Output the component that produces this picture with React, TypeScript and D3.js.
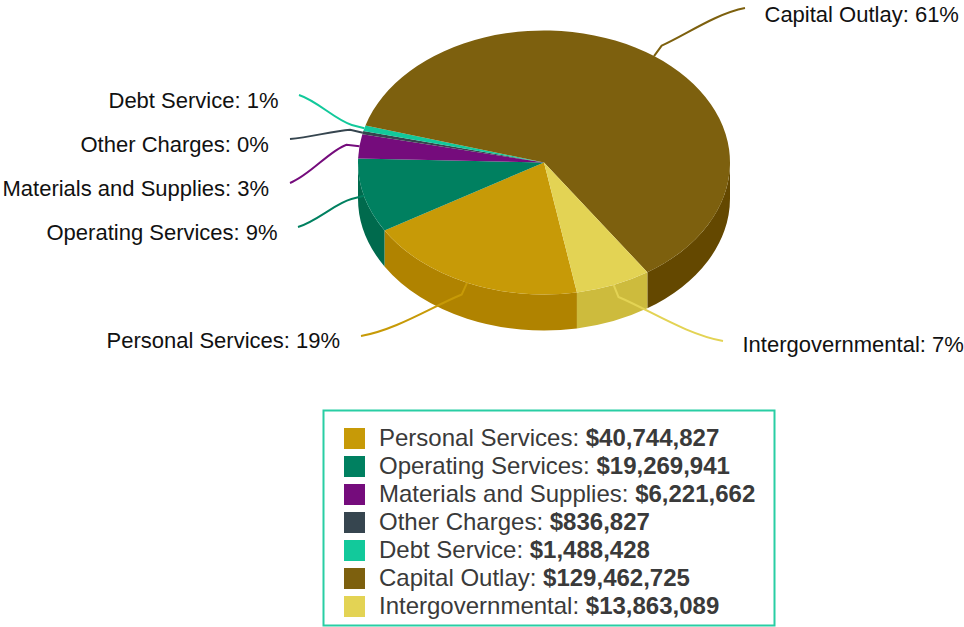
import React from 'react';
import * as d3 from 'd3';

// chart values
const categories = ['Personal Services', 'Operating Services', 'Materials and Supplies', 'Other Charges', 'Debt Service', 'Capital Outlay', 'Intergovernmental'];
const amounts = [40744827, 19269941, 6221662, 836827, 1488428, 129462725, 13863089];
const colors = ['#c79a07', '#008060', '#750c7c', '#36454f', '#12c99b', '#7d600e', '#e3d354'];
const wallColors = ['#b08300', '#006a4d', '#640a6a', '#2c393f', '#0fb087', '#644800', '#cdbb3d'];

// label layout, same order as categories
const labelX = [106.5, 46.5, 2.5, 80.5, 108.5, 764.5, 742.5];
const labelY = [348, 240, 196, 152, 108, 22, 352];
const connectorEndX = [361, 298, 290, 290, 299, 745, 723];
const connectorEndY = [336, 227, 183, 139, 95, 8, 341];
const bendNear = [0.15, 0.2, 0.2, 0.2, 0.2, 0.15, 0.15];
const bendFar = [0.7, 0.85, 0.85, 0.85, 0.85, 0.7, 0.7];

const cx = 544;
const cy = 162.5;
const rx = 186;
const ry = 132;
const depth = 36;
const startAngle = (169.8 * Math.PI) / 180;

const pie = d3.pie<number>().value(d => d).sort(null).startAngle(startAngle).endAngle(startAngle + 2 * Math.PI);
const slices = pie(amounts);
const total = d3.sum(amounts);
const money = d3.format('$,');

const topArc = d3.arc<d3.PieArcDatum<number>>().innerRadius(0).outerRadius(rx);

const px = (a: number) => cx + rx * Math.sin(a);
const py = (a: number) => cy - ry * Math.cos(a);

// outer wall for the front half of the ellipse only
const wallPath = (a0: number, a1: number) => {
  const parts: string[] = [];
  [Math.PI / 2, Math.PI * 2.5].forEach(from => {
    const s = Math.max(a0, from);
    const e = Math.min(a1, from + Math.PI);
    if (e <= s) return;
    parts.push(
      `M${px(s)},${py(s)}A${rx},${ry} 0 0 1 ${px(e)},${py(e)}` +
      `L${px(e)},${py(e) + depth}A${rx},${ry} 0 0 0 ${px(s)},${py(s) + depth}Z`
    );
  });
  return parts.join('');
};

const connectorPath = (i: number) => {
  const mid = (slices[i].startAngle + slices[i].endAngle) / 2;
  const x0 = px(mid);
  const y0 = py(mid);
  // short radial stub leaving the pie, then a smooth run to the label
  const sx = x0 + 13 * Math.sin(mid);
  const sy = y0 - 13 * Math.cos(mid);
  const ex = connectorEndX[i];
  const ey = connectorEndY[i];
  const p = d3.path();
  p.moveTo(ex, ey);
  p.bezierCurveTo(ex + (sx - ex) * 0.35, ey + (sy - ey) * bendNear[i], ex + (sx - ex) * 0.7, ey + (sy - ey) * bendFar[i], sx, sy);
  p.quadraticCurveTo(x0 + 6 * Math.sin(mid), y0 - 6 * Math.cos(mid), x0, y0);
  return p.toString();
};

const rowY = d3.scalePoint<string>().domain(categories).range([438, 606]);

export default function App() {
  return (
    <svg width={964} height={627} style={{ position: 'absolute', left: 0, top: 0, fontFamily: '"Liberation Sans", Arial, sans-serif' }}>
      {slices.map((s, i) => (
        <path key={i} d={wallPath(s.startAngle, s.endAngle)} fill={wallColors[i]} />
      ))}
      <g transform={`translate(${cx},${cy}) scale(1,${ry / rx})`}>
        {slices.map((s, i) => (
          <path key={i} d={topArc(s) as string} fill={colors[i]} />
        ))}
      </g>
      {slices.map((s, i) => (
        <path key={i} d={connectorPath(i)} fill="none" stroke={colors[i]} strokeWidth={2} />
      ))}
      {categories.map((c, i) => (
        <text key={c} x={labelX[i]} y={labelY[i]} fontSize={22} fill="#111">
          {`${c}: ${Math.round((amounts[i] / total) * 100)}%`}
        </text>
      ))}
      <rect x={323.5} y={410.5} width={451} height={215} fill="#fff" stroke="#12c99b" strokeWidth={2} opacity={0.9} />
      {categories.map((c, i) => (
        <g key={c}>
          <rect x={344} y={(rowY(c) as number) - 10} width={21} height={21} fill={colors[i]} />
          <text x={379} y={(rowY(c) as number) + 8} fontSize={24} fill="#3a3a3a">
            {`${c}: `}
            <tspan fontWeight="bold">{money(amounts[i])}</tspan>
          </text>
        </g>
      ))}
    </svg>
  );
}
